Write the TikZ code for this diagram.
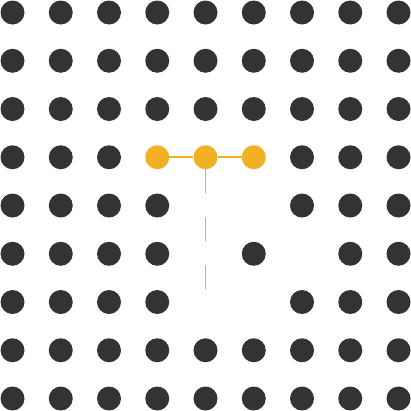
\documentclass[tikz,border=0pt]{standalone}
\definecolor{darkdot}{HTML}{333333}
\definecolor{orangedot}{HTML}{F2B024}
\begin{document}
\begin{tikzpicture}[x=1pt,y=-1pt,
  gdot/.style={circle,fill=darkdot,minimum size=24pt,inner sep=0pt},
  odot/.style={circle,fill=orangedot,minimum size=24pt,inner sep=0pt},
  oline/.style={draw=orangedot,line width=1.8pt}]
\useasboundingbox (0,0) rectangle (411,410);
\foreach \i in {0,...,8}{
  \foreach \j in {0,...,8}{
    \pgfmathtruncatemacro{\skip}{
      (\j==3 && (\i==3 || \i==4 || \i==5)) ||
      (\j==4 && (\i==4 || \i==5)) ||
      (\j==5 && (\i==4 || \i==6)) ||
      (\j==6 && (\i==4 || \i==5))}
    \ifnum\skip=0
      \node[gdot] (d\i-\j) at ({12.5+48.25*\i},{12.5+48.25*\j}) {};
    \fi
  }
}
\node[odot] (o1) at ({12.5+48.25*3},{12.5+48.25*3}) {};
\node[odot] (o2) at ({12.5+48.25*4},{12.5+48.25*3}) {};
\node[odot] (o3) at ({12.5+48.25*5},{12.5+48.25*3}) {};
\coordinate (vend) at ({12.5+48.25*4},289);
\draw[oline] (o1) -- (o2);
\draw[oline] (o2) -- (o3);
\draw[oline,dash pattern=on 24pt off 24pt] (o2.south) -- (vend);
\end{tikzpicture}
\end{document}
